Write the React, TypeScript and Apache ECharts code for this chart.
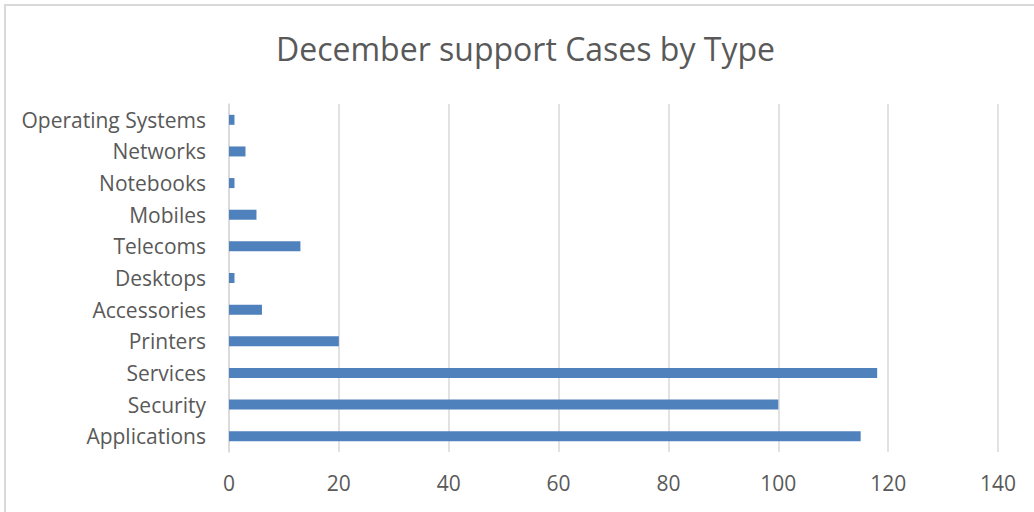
import React, { useEffect, useRef } from "react";
import * as echarts from "echarts";

const categories = [
  "Applications",
  "Security",
  "Services",
  "Printers",
  "Accessories",
  "Desktops",
  "Telecoms",
  "Mobiles",
  "Notebooks",
  "Networks",
  "Operating Systems",
];
const values = [115, 100, 118, 20, 6, 1, 13, 5, 1, 3, 1];
const xTicks = [0, 20, 40, 60, 80, 100, 120, 140];
const titleText = "December support Cases by Type";

export default function App() {
  const ref = useRef<HTMLDivElement>(null);
  useEffect(() => {
    if (!ref.current) return;
    const chart = echarts.init(ref.current, undefined, { renderer: "svg" });
    const font = "'Open Sans', 'Noto Sans', sans-serif";
    chart.setOption({
      animation: false,
      backgroundColor: "#ffffff",
      title: {
        text: titleText,
        left: 271,
        top: 27,
        textStyle: { fontFamily: font, fontSize: 32, fontWeight: "normal", color: "#595959" },
      },
      graphic: [
        {
          type: "rect",
          shape: { x: 5, y: 5, width: 1040, height: 520 },
          style: { fill: "none", stroke: "#d9d9d9", lineWidth: 2 },
          silent: true,
        },
      ],
      grid: { left: 229, right: 36, top: 104, bottom: 60, containLabel: false },
      xAxis: {
        type: "value",
        min: xTicks[0],
        max: xTicks[xTicks.length - 1],
        interval: 20,
        axisLine: { show: false },
        axisTick: { show: false },
        splitLine: { show: true, lineStyle: { color: "#d9d9d9", width: 1.5 } },
        axisLabel: { fontFamily: font, fontSize: 21, color: "#595959", margin: 20 },
      },
      yAxis: {
        type: "category",
        data: categories,
        axisLine: { show: true, lineStyle: { color: "#d9d9d9", width: 1.5 } },
        axisTick: { show: false },
        axisLabel: { fontFamily: font, fontSize: 21, color: "#595959", margin: 23 },
      },
      series: [
        {
          type: "bar",
          data: values,
          barWidth: 10,
          itemStyle: { color: "#4f81bd" },
        },
      ],
    });
    return () => chart.dispose();
  }, []);
  return (
    <div
      ref={ref}
      style={{ position: "fixed", left: 0, top: 0, width: 1034, height: 512 }}
    />
  );
}
